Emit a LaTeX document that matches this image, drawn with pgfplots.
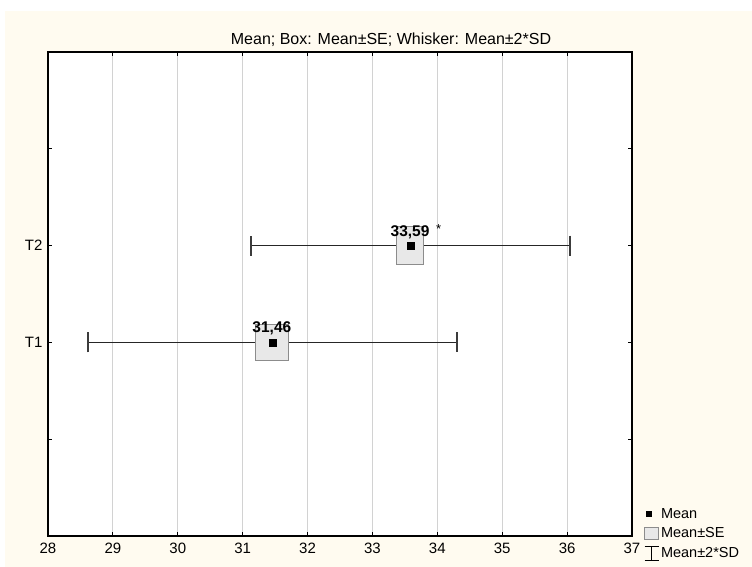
\documentclass[border=0pt]{standalone}
\usepackage{fontspec}
\setmainfont{Liberation Sans}
\usepackage{pgfplots}
\pgfplotsset{compat=1.18}
\definecolor{cream}{RGB}{255,251,240}
\definecolor{boxfill}{RGB}{232,232,232}
\definecolor{boxdraw}{RGB}{140,140,140}
\definecolor{capcol}{RGB}{60,60,60}
\definecolor{gridcol}{RGB}{210,210,210}
\begin{document}
\begin{tikzpicture}[x=1pt,y=1pt]
\useasboundingbox (0,0) rectangle (752,-567);
\fill[white] (0,0) rectangle (752,-567);
\fill[cream] (5,-11) rectangle (752,-567);
\node[font=\fontsize{16}{16}\selectfont] at (391,-40) {Mean; Box: Mean±SE; Whisker: Mean±2*SD};
\begin{axis}[
  at={(48pt,-536pt)}, anchor=south west,
  width=584pt, height=484pt, scale only axis,
  xmin=28, xmax=37, ymin=0, ymax=5,
  xtick={28,29,...,37}, ytick={1,2,3,4},
  yticklabels={,T1,T2,},
  xmajorgrids, grid style={gridcol, line width=0.8pt},
  tick align=inside, major tick length=4pt,
  tick style={black, line width=0.8pt},
  axis line style={black, line width=1.2pt},
  axis background/.style={fill=white},
  /pgf/number format/assume math mode=true,
  ticklabel style={font=\fontsize{15}{15}\selectfont},
  xticklabel style={yshift=-3pt},
  yticklabel style={xshift=-2pt},
  legend style={at={(1,0)}, anchor=south west, xshift=12pt, yshift=-25pt,
    draw=none, fill=none, inner sep=0pt, row sep=4pt,
    font=\fontsize{14.5}{14.5}\selectfont, cells={anchor=west}},
]
% whiskers: mean +- 2*SD
\addplot[only marks, mark=none, forget plot,
  error bars/.cd, x dir=both, x explicit, error mark=-,
  error bar style={line width=1pt, black!85},
  error mark options={rotate=90, line width=2pt, capcol, mark size=10pt}]
  coordinates {(31.46,2) +- (2.84,0) (33.59,3) +- (2.46,0)};
% boxes: mean +- SE
\addplot[fill=boxfill, draw=boxdraw, line width=1pt, forget plot]
  coordinates {(31.20,1.81) (31.70,1.81) (31.70,2.19) (31.20,2.19)} -- cycle;
\addplot[fill=boxfill, draw=boxdraw, line width=1pt, forget plot]
  coordinates {(33.37,2.80) (33.79,2.80) (33.79,3.20) (33.37,3.20)} -- cycle;
% means
\addplot[only marks, mark=square*, mark size=3.6pt, black, forget plot]
  coordinates {(31.46,2) (33.59,3)};
\node[font=\bfseries\fontsize{15.5}{15.5}\selectfont] at (axis cs:31.45,2) [yshift=14pt] {31,46};
\node[font=\bfseries\fontsize{15.5}{15.5}\selectfont] at (axis cs:33.58,3) [yshift=13pt] {33,59};
\node[font=\fontsize{13}{13}\selectfont] at (axis cs:33.59,3) [xshift=28pt, yshift=17pt] {*};
% legend
\addlegendimage{legend image code/.code={\path[draw=none] (0pt,0pt) -- (14pt,0pt); \fill[black, draw=none] (1pt,-3pt) rectangle (7pt,3pt);}}
\addlegendentry{Mean}
\addlegendimage{legend image code/.code={\draw[fill=boxfill, draw=boxdraw, line width=0.8pt] (0pt,-6pt) rectangle (14pt,6pt);}}
\addlegendentry{Mean±SE}
\addlegendimage{legend image code/.code={\draw[black, line width=0.8pt] (7pt,-7pt) -- (7pt,7pt) (0pt,7pt) -- (14pt,7pt) (0pt,-7pt) -- (14pt,-7pt);}}
\addlegendentry{Mean±2*SD}
\end{axis}
\end{tikzpicture}
\end{document}
